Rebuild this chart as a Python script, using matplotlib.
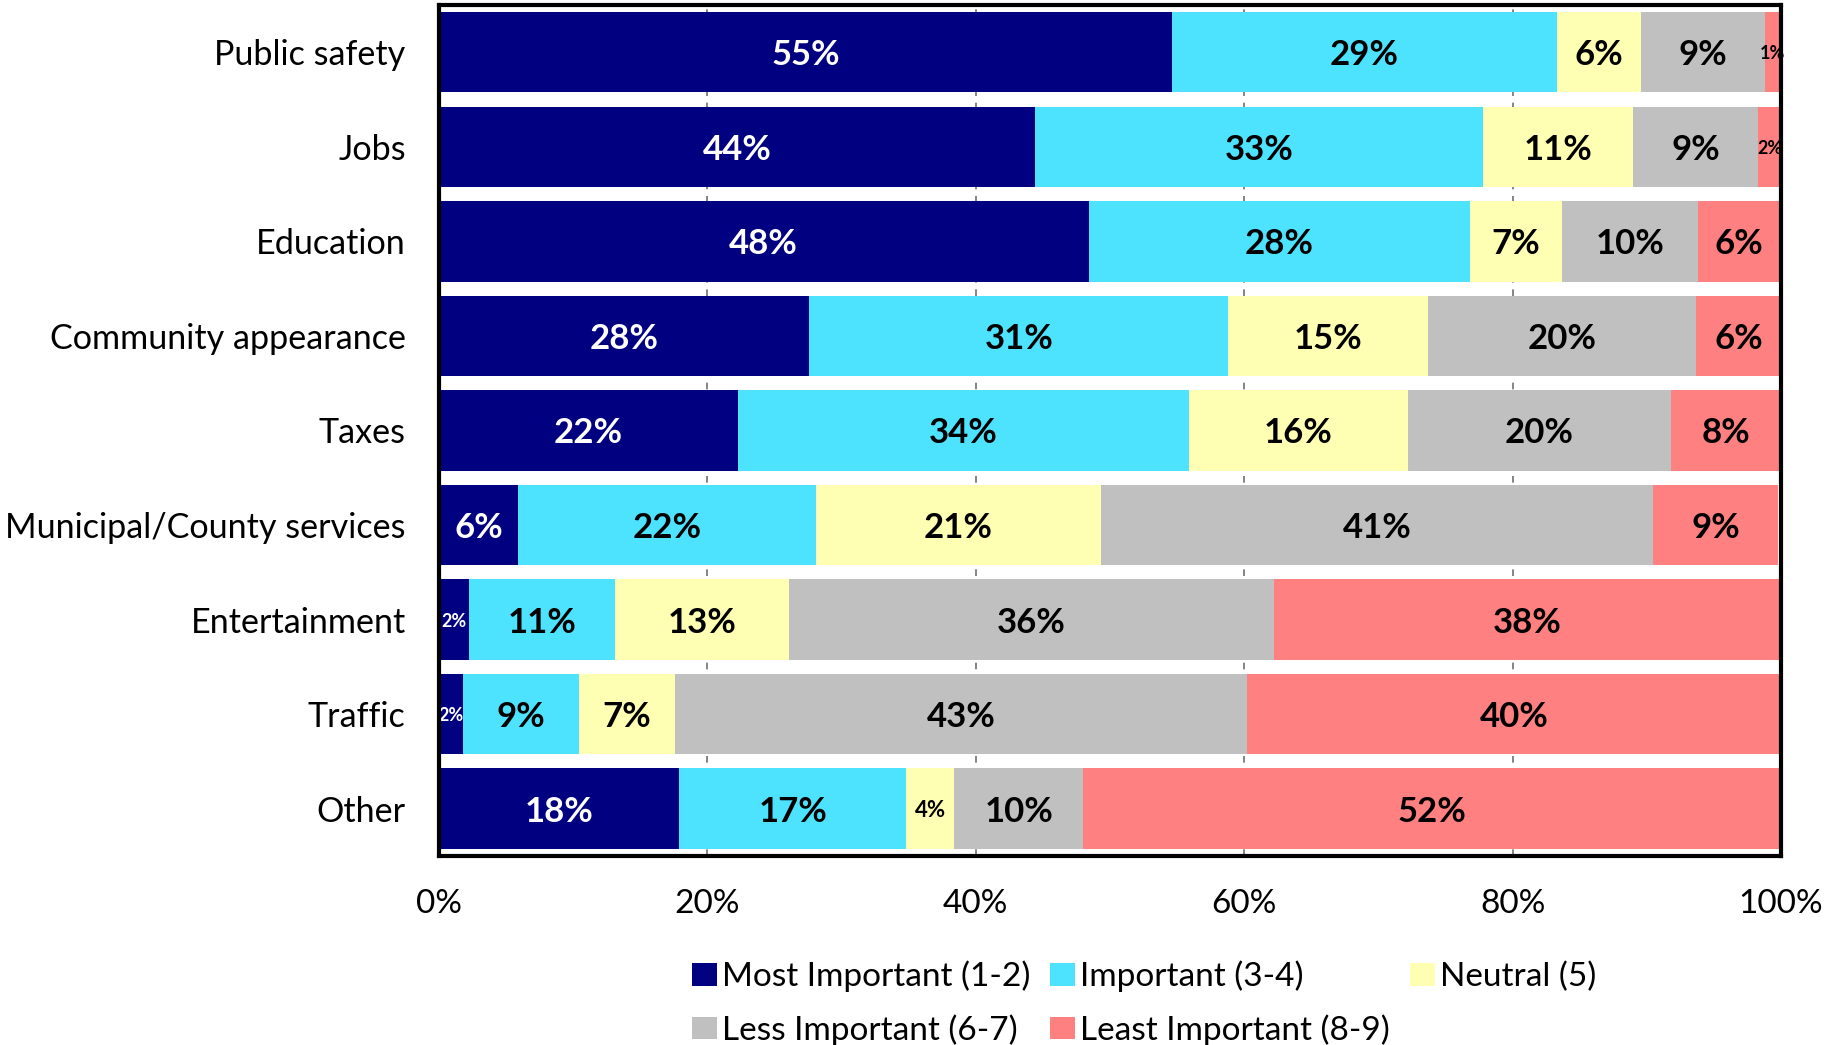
import matplotlib
matplotlib.use("Agg")
import matplotlib.pyplot as plt
from matplotlib.patches import Patch
from matplotlib.ticker import FuncFormatter

plt.rcParams['font.family'] = ['Lato', 'DejaVu Sans']

categories = ['Public safety', 'Jobs', 'Education', 'Community appearance', 'Taxes',
              'Municipal/County services', 'Entertainment', 'Traffic', 'Other']
most = [54.6, 44.4, 48.4, 27.6, 22.3, 5.9, 2.2, 1.8, 17.9]
important = [28.7, 33.4, 28.4, 31.2, 33.6, 22.2, 10.9, 8.6, 16.9]
neutral = [6.3, 11.2, 6.9, 14.9, 16.3, 21.2, 13.0, 7.2, 3.6]
less = [9.2, 9.3, 10.1, 20.0, 19.6, 41.2, 36.1, 42.6, 9.6]
least = [1.2, 1.7, 6.2, 6.3, 8.2, 9.3, 37.8, 39.8, 52.0]

series_names = ['Most Important (1-2)', 'Important (3-4)', 'Neutral (5)',
                'Less Important (6-7)', 'Least Important (8-9)']
series = [most, important, neutral, less, least]
colors = ['#000080', '#4DE3FF', '#FFFFB4', '#C0C0C0', '#FF8080']
text_colors = ['white', 'black', 'black', 'black', 'black']
xticks = [0, 20, 40, 60, 80, 100]

fig = plt.figure(figsize=(18.27, 10.45), dpi=100)
ax = fig.add_axes([0.2403, 0.181, 0.7345, 0.8142])

y = list(range(len(categories)))
left = [0.0] * len(categories)
handles = []
for s, vals in enumerate(series):
    ax.barh(y, vals, left=left, height=0.85, color=colors[s], zorder=2)
    handles.append(Patch(facecolor=colors[s], label=series_names[s]))
    for i, v in enumerate(vals):
        if v < 3:
            fs = 13
        elif v < 5:
            fs = 16
        else:
            fs = 25
        ax.text(left[i] + v / 2, i, f"{v:.0f}%", ha='center', va='center_baseline',
                fontsize=fs, fontweight='bold', color=text_colors[s], zorder=3)
    left = [l + v for l, v in zip(left, vals)]

ax.set_xlim(0, 100)
ax.set_ylim(len(categories) - 0.5, -0.5)
ax.set_yticks(y)
ax.set_yticklabels(categories, fontsize=24.6)
ax.set_xticks(xticks)
ax.xaxis.set_major_formatter(FuncFormatter(lambda v, p: f"{v:.0f}%"))
ax.tick_params(axis='x', length=0, pad=24, labelsize=24)
ax.tick_params(axis='y', length=0, pad=24)
for lbl in ax.get_yticklabels():
    lbl.set_verticalalignment('center_baseline')
ax.set_axisbelow(True)
ax.xaxis.grid(True, color='#707070', linewidth=1.2, linestyle=(0, (4, 4)), zorder=0)
for sp in ax.spines.values():
    sp.set_linewidth(3)
    sp.set_color('black')
    sp.set_zorder(5)

order = [0, 3, 1, 4, 2]
fig.legend([handles[k] for k in order], [series_names[k] for k in order],
           ncol=3, loc='upper left', bbox_to_anchor=(0.3788, 0.081),
           frameon=False, fontsize=24, borderpad=0, borderaxespad=0,
           handlelength=0.75, handleheight=0.67, handletextpad=0.15,
           columnspacing=0.6, labelspacing=0.66)

fig.savefig('out.png', dpi=100)
